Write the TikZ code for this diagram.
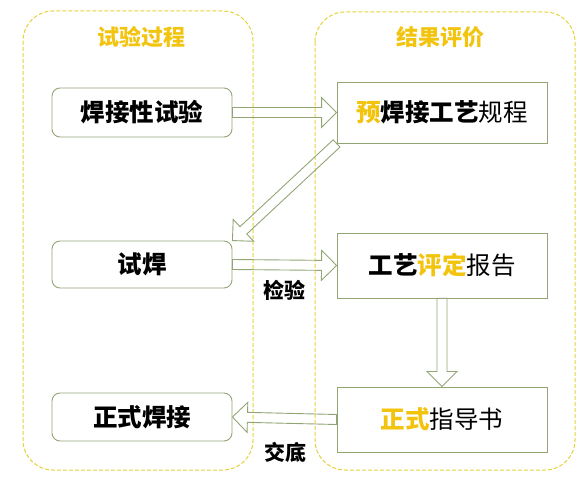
\documentclass[tikz,border=0pt]{standalone}
\usepackage{fontspec}
\setmainfont{Noto Sans CJK SC}
\usetikzlibrary{calc}

\definecolor{panelyellow}{HTML}{E3D23A}
\definecolor{titlegold}{HTML}{F2C40F}
\definecolor{boxgreen}{HTML}{93A575}

% hollow block arrow from #1 to #2
\newcommand{\hollowarrow}[2]{%
  \coordinate (ha) at ($(#2)!15pt!(#1)$);
  \draw[blockarrow] ($(#1)!5pt!90:(#2)$) -- ($(ha)!5pt!90:(#2)$) -- ($(ha)!15pt!90:(#2)$)
    -- (#2) -- ($(ha)!15pt!-90:(#2)$) -- ($(ha)!5pt!-90:(#2)$) -- ($(#1)!5pt!-90:(#2)$) -- cycle;}

\begin{document}
\begin{tikzpicture}[x=1pt, y=-1pt,
    panel/.style={draw=panelyellow, dash pattern=on 4pt off 2pt, rounded corners=30pt, line width=1pt},
    title/.style={text=titlegold, font=\fontsize{22}{25}\selectfont\bfseries},
    stage/.style={draw=boxgreen, rounded corners=8pt, line width=0.9pt, minimum width=180pt, font=\fontsize{24.5}{27}\selectfont\bfseries},
    result/.style={draw=boxgreen, line width=0.9pt, minimum width=210pt, font=\fontsize{24.5}{27}\selectfont},
    blockarrow/.style={draw=boxgreen, line width=0.9pt, line join=miter},
    note/.style={font=\fontsize{21}{24}\selectfont\bfseries}]
        \useasboundingbox (0,0) rectangle (584,486);

        % Panels
        \draw[panel] (23,11) rectangle (253,470);
        \draw[panel] (315,12) rectangle (575,470);
        \node (lefttitle) [title] at (141,37) {试验过程};
        \node (righttitle) [title] at (440,37) {结果评价};

        % Nodes
        \node (weldtest) [stage, minimum height=49pt] at (142,112.5) {焊接性试验};
        \node (trial) [stage, minimum height=47pt] at (142,264.5) {试焊};
        \node (formal) [stage, minimum height=48pt] at (142,417) {正式焊接};
        \node (pre) [result, minimum height=61pt] at (442,112.5)
            {\textbf{\textcolor{titlegold}{预}焊接工艺}规程};
        \node (report) [result, minimum height=65pt] at (442,265.5)
            {\textbf{工艺\textcolor{titlegold}{评定}}报告};
        \node (guide) [result, minimum height=65pt] at (442,419.5)
            {\textbf{\textcolor{titlegold}{正式}}指导书};
        \node (check) [note] at (284,290) {检验};
        \node (handover) [note] at (285,452) {交底};

        % Edges
        \hollowarrow{weldtest.east}{pre.west}
        \hollowarrow{pre.south west}{trial.north east}
        \hollowarrow{trial.east}{report.west}
        \hollowarrow{report.south}{guide.north}
        \hollowarrow{guide.west}{formal.east}
    \end{tikzpicture}
\end{document}
